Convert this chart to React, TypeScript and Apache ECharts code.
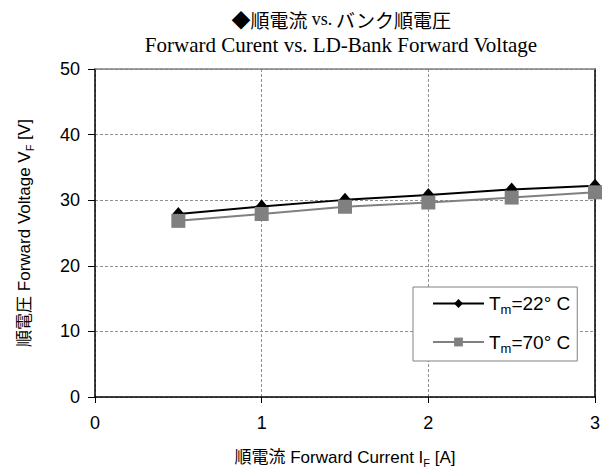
import React, { useEffect, useRef } from 'react';
import * as echarts from 'echarts';

// ---- data ----
const currents = [0.5, 1, 1.5, 2, 2.5, 3];
const voltage22 = [27.9, 29.05, 30.05, 30.8, 31.65, 32.2];
const voltage70 = [26.85, 27.9, 29.0, 29.65, 30.4, 31.2];
const seriesTemps = ['22', '70'];
const xRange = { min: 0, max: 3, interval: 1 };
const yRange = { min: 0, max: 50, interval: 10 };
const titleMain = ['◆順電流 ', 'vs.', ' バンク順電圧'];
const titleSub = 'Forward Curent vs. LD-Bank Forward Voltage';
const xName = ['順電流 Forward Current I', 'F', ' [A]'];
const yName = ['順電圧 Forward Voltage V', 'F', ' [V]'];

const SANS = '"Liberation Sans", Arial, "Noto Sans CJK JP", sans-serif';
const SERIF = '"Liberation Serif", "Times New Roman", serif';
const CJK = '"Noto Sans CJK JP", sans-serif';

const seriesName = (t: string) => `Tm=${t}° C`;

export default function App() {
  const ref = useRef<HTMLDivElement>(null);
  useEffect(() => {
    if (!ref.current) return;
    const chart = echarts.init(ref.current, undefined, { renderer: 'svg' });
    const nameRich = {
      a: { fontFamily: SANS, fontSize: 17, lineHeight: 22, color: '#000' },
      sub: { fontFamily: SANS, fontSize: 11, lineHeight: 12, verticalAlign: 'bottom', color: '#000' },
    };
    const option: any = {
      animation: false,
      backgroundColor: '#fff',
      title: [
        {
          text: `{cj|${titleMain[0]}}{se|${titleMain[1]}}{cj|${titleMain[2]}}`,
          left: 341,
          top: 8,
          padding: 0,
          textAlign: 'center',
          textStyle: {
            fontWeight: 'normal',
            rich: {
              cj: { fontFamily: CJK, fontSize: 19, lineHeight: 22, fontWeight: 'normal', color: '#000' },
              se: { fontFamily: SERIF, fontSize: 18, lineHeight: 22, fontWeight: 'normal', color: '#000' },
            },
          },
        },
        {
          text: titleSub,
          left: 341,
          top: 34,
          padding: 0,
          textAlign: 'center',
          textStyle: { fontFamily: SERIF, fontSize: 21, lineHeight: 22, fontWeight: 'normal', color: '#000' },
        },
      ],
      grid: { left: 95, right: 18, top: 69, bottom: 79, containLabel: false, outerBoundsMode: 'none' },
      legend: {
        orient: 'vertical',
        left: 413,
        top: 287,
        padding: [7, 7, 6, 19],
        itemGap: 16,
        itemWidth: 51,
        itemHeight: 11,
        borderColor: '#808080',
        borderWidth: 1,
        borderRadius: 0,
        backgroundColor: '#fff',
        data: seriesTemps.map(seriesName),
        formatter: (name: string) => {
          const t = name.replace('Tm=', '');
          return `{a|T}{sub|m}{a|=${t}}`;
        },
        textStyle: {
          rich: {
            a: { fontFamily: SANS, fontSize: 19, lineHeight: 26, color: '#000' },
            sub: { fontFamily: SANS, fontSize: 13, lineHeight: 14, verticalAlign: 'bottom', color: '#000' },
          },
        },
      },
      xAxis: [
        {
          type: 'value',
          min: xRange.min,
          max: xRange.max,
          interval: xRange.interval,
          name: `{a|${xName[0]}}{sub|${xName[1]}}{a|${xName[2]}}`,
          nameLocation: 'middle',
          nameGap: 49,
          nameTextStyle: { rich: nameRich },
          axisLine: { show: true, onZero: false, lineStyle: { color: '#000', width: 1.5 } },
          axisTick: { show: true, inside: false, length: 6, lineStyle: { color: '#000' } },
          axisLabel: { fontFamily: SANS, fontSize: 18, color: '#000', margin: 17 },
          splitLine: { show: true, lineStyle: { color: '#909090', type: [3, 2], width: 1 } },
        },
        {
          type: 'value',
          position: 'top',
          min: xRange.min,
          max: xRange.max,
          interval: xRange.interval,
          axisLine: { show: true, onZero: false, lineStyle: { color: '#808080', width: 1.5 } },
          axisTick: { show: false },
          axisLabel: { show: false },
          splitLine: { show: false },
        },
      ],
      yAxis: [
        {
          type: 'value',
          min: yRange.min,
          max: yRange.max,
          interval: yRange.interval,
          name: `{a|${yName[0]}}{sub|${yName[1]}}{a|${yName[2]}}`,
          nameLocation: 'middle',
          nameGap: 60,
          nameTextStyle: { rich: nameRich },
          axisLine: { show: true, onZero: false, lineStyle: { color: '#000', width: 1.5 } },
          axisTick: { show: true, inside: false, length: 7, lineStyle: { color: '#000' } },
          axisLabel: { fontFamily: SANS, fontSize: 18, color: '#000', margin: 15 },
          splitLine: { show: true, lineStyle: { color: '#909090', type: [3, 2], width: 1 } },
        },
        {
          type: 'value',
          position: 'right',
          min: yRange.min,
          max: yRange.max,
          interval: yRange.interval,
          axisLine: { show: true, onZero: false, lineStyle: { color: '#000', width: 1.5 } },
          axisTick: { show: false },
          axisLabel: { show: false },
          splitLine: { show: false },
        },
      ],
      series: [
        {
          name: seriesName(seriesTemps[0]),
          type: 'line',
          data: currents.map((c, i) => [c, voltage22[i]]),
          symbol: 'diamond',
          symbolSize: [12, 14],
          itemStyle: { color: '#000' },
          lineStyle: { color: '#000', width: 2 },
          z: 2,
        },
        {
          name: seriesName(seriesTemps[1]),
          type: 'line',
          data: currents.map((c, i) => [c, voltage70[i]]),
          symbol: 'rect',
          symbolSize: 14,
          itemStyle: { color: '#808080' },
          lineStyle: { color: '#808080', width: 2 },
          z: 3,
        },
      ],
    };
    chart.setOption(option);
    return () => chart.dispose();
  }, []);
  return (
    <div
      ref={ref}
      style={{ position: 'fixed', left: 0, top: 0, width: 613, height: 476 }}
    />
  );
}
